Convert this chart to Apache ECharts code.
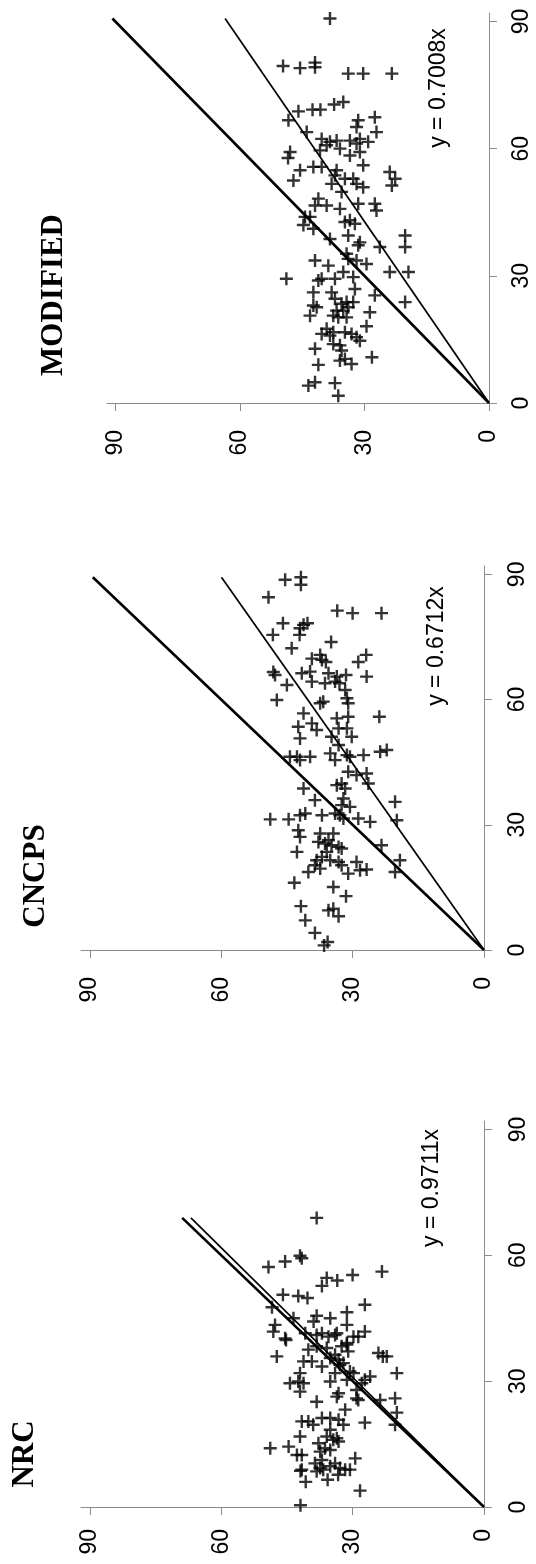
<!DOCTYPE html>
<html>
<head>
<meta charset="utf-8">
<script src="https://cdn.jsdelivr.net/npm/echarts@6/dist/echarts.min.js"></script>
<style>
html, body { margin: 0; padding: 0; background: #fff; }
#main { width: 536px; height: 1564px; }
</style>
</head>
<body>
<div id="main"></div>
<script>
// points are [x, y] of the original (unrotated) plots
var nrcPoints = [
    [68.9,38.2],[57.2,49.2],[58.5,45.4],[59.9,42.0],[59.3,41.6],[54.6,35.9],[52.7,37.0],[54.0,33.5],[55.3,30.0],[56.1,23.3],
    [50.6,45.9],[50.3,42.4],[49.8,40.3],[47.6,48.4],[48.2,27.2],[46.4,31.3],[45.6,38.2],[45.0,35.1],[43.4,47.7],[45.0,43.5],
    [44.2,38.9],[43.4,31.3],
    [41.8,48.1],[40.2,45.4],[39.8,45.2],[41.4,40.8],[41.0,38.2],[41.4,37.0],[40.6,35.5],[41.0,34.0],[41.4,33.6],[38.7,31.3],
    [40.6,29.8],[40.6,28.7],[41.8,27.2],[35.9,47.3],[34.7,41.2],[34.7,39.3],[37.5,40.1],[38.3,38.2],[37.9,35.9],[35.5,35.1],
    [36.3,34.0],[35.1,33.2],[38.3,32.5],[39.1,31.3],[37.1,31.0],[33.9,32.9],[34.3,32.1],[33.5,37.0],[36.7,24.1],[35.9,23.1],
    [35.9,22.2],[31.9,19.9],[31.9,42.0],[29.5,44.3],[29.9,42.4],[29.5,41.2],[27.5,42.0],[29.9,35.1],[31.9,34.0],[30.3,31.3],
    [32.3,30.6],[31.9,29.8],[29.5,27.9],[30.3,27.2],[31.1,26.0],[25.1,38.2],[26.3,33.6],[27.1,33.2],[23.2,31.7],[27.9,29.1],
    [25.9,29.1],[25.5,28.7],[25.5,23.7],[25.9,20.3],[20.4,41.6],[20.4,40.1],[19.6,39.0],[21.2,37.0],[21.2,35.1],[20.8,33.2],
    [19.6,32.1],[20.1,27.2],[22.5,19.9],[19.6,20.3],[16.8,42.0],[16.8,35.9],[18.4,35.1],[16.0,34.4],[16.4,33.6],[14.0,48.8],
    [14.4,44.6],[12.4,42.7],[12.4,41.6],[15.2,37.8],[13.2,37.4],[14.0,36.3],[13.6,35.1],[15.6,33.2],[10.4,38.6],[11.2,37.0],
    [9.3,37.4],[8.9,36.7],[9.7,35.1],[10.4,34.0],[9.3,32.9],[8.9,31.7],[8.9,30.6],[11.6,29.4],[8.9,41.6],[8.5,38.2],
    [0.4,41.9],[6.0,40.7],[8.6,41.9],[3.9,28.3],[7.7,33.3],[6.5,35.7]
];

var cncpsPoints = [
    [88.7,45.4],[89.3,41.8],[87.5,41.8],[84.5,49.2],[81.3,33.5],[80.7,30.0],[80.7,23.4],[78.3,45.9],[75.5,48.2],[77.1,42.0],
    [77.9,41.2],[78.3,40.3],[75.5,42.1],[73.8,34.9],[72.3,43.9],[69.8,39.3],[70.7,37.4],[69.5,37.0],[69.0,36.1],[69.0,28.7],
    [70.7,26.9],[66.6,48.1],[65.9,47.7],[66.3,41.6],[66.7,39.7],[66.3,35.5],[65.5,33.6],[65.9,31.5],[65.5,26.8],[64.3,39.3],
    [63.5,45.0],[63.9,36.3],[64.3,34.0],[63.9,33.0],
    [62.3,31.7],[59.9,47.3],[59.1,37.4],[59.5,36.7],[60.3,31.3],[59.1,31.0],[56.7,41.2],[55.5,33.6],[55.9,31.0],[55.9,23.9],
    [53.5,42.4],[54.3,39.3],[52.7,38.2],[50.7,42.0],[51.1,34.8],[53.1,33.2],[53.1,31.3],[51.1,30.2],[49.1,33.2],[46.3,44.3],
    [46.3,42.7],[45.5,42.0],[46.3,39.7],[47.1,35.1],[45.5,34.0],[46.7,31.3],[46.3,30.6],[46.7,27.5],[47.5,23.7],[47.9,22.2],
    [42.7,31.0],[41.9,29.1],[42.3,26.8],[38.7,41.2],[39.5,33.6],[39.9,32.5],[38.7,31.7],[39.9,26.4],[35.9,38.6],[36.3,32.1],
    [34.7,32.5],[34.3,30.6],[35.5,20.3],
    [31.3,48.8],[31.3,44.6],[32.3,42.0],[32.7,40.8],[32.3,37.0],[32.7,34.0],[32.3,32.9],[31.5,32.1],[31.5,28.7],[30.7,26.0],
    [31.1,19.9],[28.7,42.4],[27.1,42.0],[23.5,42.7],[27.9,37.4],[25.9,37.8],[25.5,36.3],[26.3,35.5],[25.1,34.8],[27.9,34.4],
    [24.7,33.2],[24.3,32.5],[23.5,35.9],[22.3,37.0],[21.5,38.2],[21.5,35.1],[21.1,33.2],[25.1,23.4],[21.5,19.2],[20.3,38.6],
    [18.7,40.1],[19.5,37.4],[20.3,32.5],[18.3,31.0],[21.1,29.1],[19.1,28.3],[19.3,26.8],[18.7,20.3],[16.1,43.3],[15.1,34.4],
    [12.9,31.5],[10.5,41.8],[9.5,35.5],[9.9,34.4],[8.1,33.2],[7.1,40.8],[4.1,38.6],[1.1,36.5],[1.9,35.7]
];

var modifiedPoints = [
    [90.7,38.3],[79.5,49.6],[79.0,45.5],[80.3,41.9],[79.2,41.9],[77.7,33.9],[77.7,30.3],[77.7,23.4],[68.8,45.9],[69.2,42.5],
    [69.2,40.6],[70.4,37.3],[71.0,35.1],[66.7,48.3],[66.7,31.5],[67.4,27.5],[65.1,31.9],[63.9,27.1],[63.9,43.9],
    [62.3,40.3],[61.6,38.3],[61.9,36.7],[61.9,33.5],[61.2,31.9],[62.3,31.1],[61.6,29.1],[59.2,47.9],[57.8,48.4],[59.6,40.7],
    [60.8,39.1],[60.0,35.9],[58.4,33.5],[59.2,31.1],[56.1,30.3],[54.9,45.5],[52.5,47.1],[55.7,42.3],[55.7,40.3],[53.7,37.1],
    [54.9,36.7],[51.7,37.9],[52.9,34.7],[52.9,32.7],[51.7,31.9],[50.9,30.3],[54.5,23.9],[52.9,22.6],[51.3,23.4],[49.8,35.5],
    [48.2,41.1],[46.6,41.9],[46.6,39.1],[43.9,44.3],[43.9,43.1],[42.0,44.7],[41.1,42.3],[45.8,35.9],[47.0,31.5],[47.0,27.5],
    [45.4,27.1],[42.7,34.7],[43.1,33.5],[42.3,32.3],[39.5,33.9],[38.7,38.3],[37.2,31.5],[37.9,31.1],[36.8,26.3],[39.5,20.2],
    [36.8,20.2],[33.6,41.9],[32.4,38.7],[35.2,34.3],[34.0,33.9],[33.6,31.9],[32.8,29.5],
    [29.3,48.8],[28.9,41.1],[29.3,40.3],[29.3,37.1],[30.9,35.1],[29.7,32.7],[26.9,32.3],[30.9,23.9],[30.9,19.4],[25.4,27.5],
    [23.8,20.2],[26.1,42.3],[26.1,37.9],[24.6,37.1],[23.0,42.3],[22.6,41.5],[23.4,35.5],[23.8,34.3],[23.8,32.7],[21.8,36.7],
    [21.8,35.1],[22.6,33.9],[20.6,43.1],[20.6,37.5],[20.2,36.3],[20.2,34.3],[21.4,28.7],[18.1,29.5],[16.3,40.3],[17.5,39.1],
    [15.9,38.3],[16.7,37.5],[16.7,34.7],[16.3,33.1],[15.5,31.9],[14.7,31.1],[12.8,41.9],[13.9,37.5],[13.6,35.9],[12.4,35.5],
    [10.0,35.9],[10.4,34.7],[9.2,33.1],[10.8,28.2],[9.0,41.1],[4.1,43.5],[4.9,41.9],[4.7,37.1],[1.7,36.3]
];

var panelNames = ["MODIFIED", "CNCPS", "NRC"];
var panelPoints = [modifiedPoints, cncpsPoints, nrcPoints];
var slopes = [0.7008, 0.6712, 0.9711];
var axisTicks = [0, 30, 60, 90];

// plot boxes (rotated figure: original y runs right->left, original x runs bottom->top)
var boxes = [
    {left: 107, right: 47, top: 13, height: 390},
    {left: 81, right: 52, top: 566, height: 384},
    {left: 81, right: 52, top: 1121, height: 386}
];
var xLabelMargin = [27, 27, 22];
var yLabelMargin = [21, 22, 23];
var titlePos = [[54, 295], [36, 876], [25, 1454]];
var eqPos = [[439, 88], [437, 646], [432, 1188]];

var chart = echarts.init(document.getElementById("main"));
var axisGray = "#8c8c8c";
// plus sign marker
var plusPath = "path://M5.3,0H7.7V5.3H13V7.7H7.7V13H5.3V7.7H0V5.3H5.3Z";

var grids = [], xAxes = [], yAxes = [], series = [], graphics = [];

for (var i = 0; i < 3; i++) {
    var pts = panelPoints[i];
    var maxX = 0;
    for (var k = 0; k < pts.length; k++) {
        if (pts[k][0] > maxX) maxX = pts[k][0];
    }

    grids.push(boxes[i]);

    // horizontal axis = original y
    xAxes.push({
        gridIndex: i, type: "value", inverse: true, min: 0, max: 92,
        axisLine: {show: true, onZero: false, lineStyle: {color: axisGray, width: 1}},
        axisTick: {show: true, length: 8, customValues: axisTicks, lineStyle: {color: axisGray}},
        axisLabel: {customValues: axisTicks, rotate: 90, margin: xLabelMargin[i],
            fontSize: 23, fontFamily: "Liberation Sans", color: "#000"},
        splitLine: {show: false}
    });
    // vertical axis = original x
    yAxes.push({
        gridIndex: i, type: "value", position: "right", min: 0, max: 92,
        axisLine: {show: true, onZero: false, lineStyle: {color: axisGray, width: 1}},
        axisTick: {show: true, length: 8, customValues: axisTicks, lineStyle: {color: axisGray}},
        axisLabel: {customValues: axisTicks, rotate: 90, margin: yLabelMargin[i],
            fontSize: 23, fontFamily: "Liberation Sans", color: "#000"},
        splitLine: {show: false}
    });

    // 1:1 line
    series.push({
        type: "line", xAxisIndex: i, yAxisIndex: i, symbol: "none", silent: true,
        data: [[0, 0], [maxX, maxX]],
        lineStyle: {color: "#000", width: 2.6}
    });
    // fitted line through origin
    series.push({
        type: "line", xAxisIndex: i, yAxisIndex: i, symbol: "none", silent: true,
        data: [[0, 0], [slopes[i] * maxX, maxX]],
        lineStyle: {color: "#000", width: 1.7}
    });
    series.push({
        type: "scatter", xAxisIndex: i, yAxisIndex: i,
        symbol: plusPath, symbolSize: 13,
        itemStyle: {color: "#000"},
        data: pts.map(function (p) { return [p[1], p[0]]; })
    });

    graphics.push({
        type: "text", x: titlePos[i][0], y: titlePos[i][1], rotation: Math.PI / 2,
        style: {text: panelNames[i], font: "bold 31px 'Liberation Serif'", fill: "#000",
            textAlign: "center", textVerticalAlign: "middle"}
    });
    graphics.push({
        type: "text", x: eqPos[i][0], y: eqPos[i][1], rotation: Math.PI / 2,
        style: {text: "y = " + slopes[i].toFixed(4) + "x", font: "23px 'Liberation Sans'", fill: "#000",
            textAlign: "center", textVerticalAlign: "middle"}
    });
}

chart.setOption({
    animation: false,
    backgroundColor: "#fff",
    grid: grids,
    xAxis: xAxes,
    yAxis: yAxes,
    series: series,
    graphic: graphics
});
</script>
</body>
</html>
